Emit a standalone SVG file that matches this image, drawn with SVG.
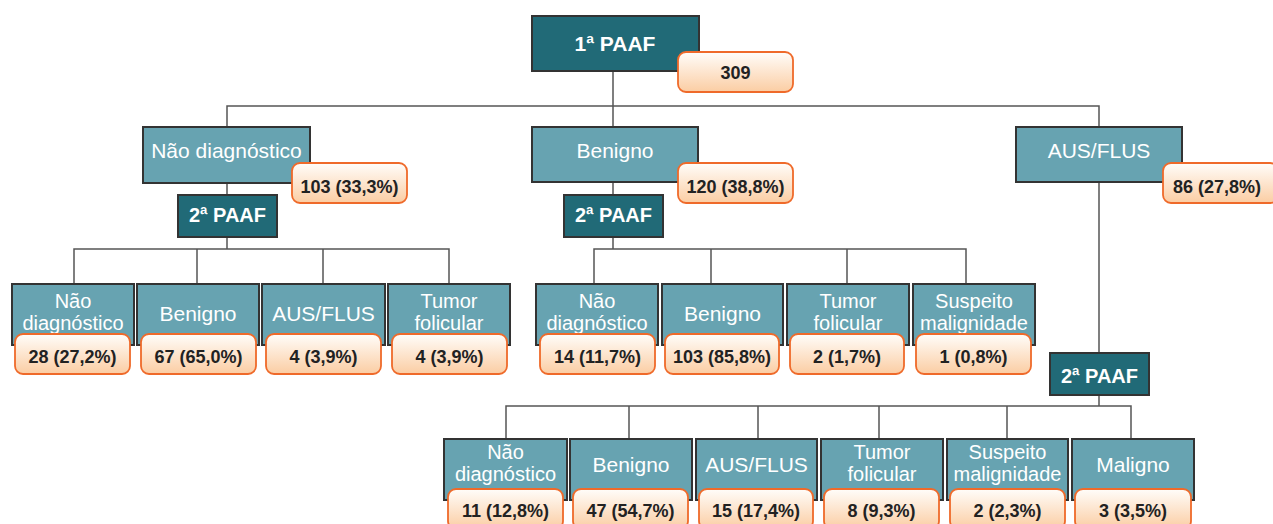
<svg xmlns="http://www.w3.org/2000/svg" width="1273" height="524" viewBox="0 0 1273 524">
<defs>
<linearGradient id="bg" x1="0" y1="0" x2="0" y2="1">
<stop offset="0" stop-color="#fffdfa"/>
<stop offset="1" stop-color="#fbcda3"/>
</linearGradient>
<style>
.dk{fill:#216a77;stroke:#333;stroke-width:2}
.lt{fill:#67a3b1;stroke:#333;stroke-width:2}
.bd{fill:url(#bg);stroke:#ef6a2a;stroke-width:1.8}
.tw{font-family:"Liberation Sans",Arial,sans-serif;font-size:21px;fill:#fff;text-anchor:middle}
.t2{font-family:"Liberation Sans",Arial,sans-serif;font-size:20px;fill:#fff;text-anchor:middle}
.tb{font-family:"Liberation Sans",Arial,sans-serif;font-size:21px;font-weight:bold;fill:#fff;text-anchor:middle}
.tn{font-family:"Liberation Sans",Arial,sans-serif;font-size:18px;font-weight:bold;fill:#222;text-anchor:middle}
.ln{fill:none;stroke:#555;stroke-width:1.5}
</style>
</defs>
<rect width="1273" height="524" fill="#fff"/>
<g id="connectors" class="ln">
<path d="M613 71V106M227 127V106H1099V127M613 106V127"/>
<path d="M227 183V194M613 182V195M1099 182V353"/>
<path d="M227 237V249M74 284V249H449V284M197 249V284M323 249V284"/>
<path d="M613 237V249M594 284V249H966V284M711 249V284M847 249V284"/>
<path d="M1099 395V406M506 439V406H1131V439M629 406V439M758 406V439M879 406V439M1007 406V439"/>
</g>
<g id="n-paaf1"><rect class="dk" x="532" y="16" width="167" height="55"/><text class="tb" x="615" y="51">1ª PAAF</text></g>
<g id="b-309"><rect class="bd" x="678" y="52" width="115" height="40" rx="8"/><text class="tn" x="735.5" y="79">309</text></g>
<g id="n-nd"><rect class="lt" x="143" y="127" width="167" height="56"/><text class="tw" x="226.5" y="157.5">Não diagnóstico</text></g>
<g id="b-nd"><rect class="bd" x="292" y="163" width="115" height="40" rx="8"/><text class="tn" x="349.5" y="192.5">103 (33,3%)</text></g>
<g id="n-ben"><rect class="lt" x="532" y="127" width="166" height="55"/><text class="tw" x="615" y="157.5">Benigno</text></g>
<g id="b-ben"><rect class="bd" x="678" y="163" width="115" height="40" rx="8"/><text class="tn" x="735.5" y="192.5">120 (38,8%)</text></g>
<g id="n-aus"><rect class="lt" x="1016" y="127" width="166" height="55"/><text class="tw" x="1099" y="157.5">AUS/FLUS</text></g>
<g id="b-aus"><rect class="bd" x="1163" y="163" width="115" height="40" rx="8"/><text class="tn" x="1217" y="192.5">86 (27,8%)</text></g>
<g id="n-paaf2a"><rect class="dk" x="178" y="195" width="99" height="42"/><text class="tb" x="227.5" y="221.5" style="font-size:20px">2ª PAAF</text></g>
<g id="n-paaf2b"><rect class="dk" x="564" y="195" width="99" height="42"/><text class="tb" x="613.5" y="221.5" style="font-size:20px">2ª PAAF</text></g>
<g id="n-paaf2c"><rect class="dk" x="1050" y="353" width="99" height="42"/><text class="tb" x="1099.5" y="383" style="font-size:20px">2ª PAAF</text></g>
<g id="l1"><rect class="lt" x="12" y="284" width="122" height="61"/><text class="t2" x="73" y="308">Não</text><text class="t2" x="73" y="330">diagnóstico</text><rect class="bd" x="15" y="334" width="115" height="40" rx="8"/><text class="tn" x="72.5" y="363">28 (27,2%)</text></g>
<g id="l2"><rect class="lt" x="137" y="284" width="122" height="61"/><text class="tw" x="198" y="320.5">Benigno</text><rect class="bd" x="141" y="334" width="115" height="40" rx="8"/><text class="tn" x="198.5" y="363">67 (65,0%)</text></g>
<g id="l3"><rect class="lt" x="262" y="284" width="123" height="61"/><text class="tw" x="323.5" y="320.5">AUS/FLUS</text><rect class="bd" x="266" y="334" width="115" height="40" rx="8"/><text class="tn" x="323.5" y="363">4 (3,9%)</text></g>
<g id="l4"><rect class="lt" x="388" y="284" width="122" height="61"/><text class="t2" x="449" y="308">Tumor</text><text class="t2" x="449" y="330">folicular</text><rect class="bd" x="392" y="334" width="115" height="40" rx="8"/><text class="tn" x="449.5" y="363">4 (3,9%)</text></g>
<g id="m1"><rect class="lt" x="536" y="284" width="122" height="61"/><text class="t2" x="597" y="308">Não</text><text class="t2" x="597" y="330">diagnóstico</text><rect class="bd" x="540" y="334" width="115" height="40" rx="8"/><text class="tn" x="597.5" y="363">14 (11,7%)</text></g>
<g id="m2"><rect class="lt" x="662" y="284" width="121" height="61"/><text class="tw" x="722.5" y="320.5">Benigno</text><rect class="bd" x="665" y="334" width="114" height="40" rx="8"/><text class="tn" x="722" y="363">103 (85,8%)</text></g>
<g id="m3"><rect class="lt" x="787" y="284" width="122" height="61"/><text class="t2" x="848" y="308">Tumor</text><text class="t2" x="848" y="330">folicular</text><rect class="bd" x="790" y="334" width="114" height="40" rx="8"/><text class="tn" x="847" y="363">2 (1,7%)</text></g>
<g id="m4"><rect class="lt" x="913" y="284" width="122" height="61"/><text class="t2" x="974" y="308">Suspeito</text><text class="t2" x="974" y="330">malignidade</text><rect class="bd" x="916" y="334" width="115" height="40" rx="8"/><text class="tn" x="973.5" y="363">1 (0,8%)</text></g>
<g id="r1"><rect class="lt" x="444" y="439" width="123" height="61"/><text class="t2" x="505.5" y="459">Não</text><text class="t2" x="505.5" y="481">diagnóstico</text><rect class="bd" x="448" y="489" width="115" height="40" rx="8"/><text class="tn" x="505.5" y="517">11 (12,8%)</text></g>
<g id="r2"><rect class="lt" x="570" y="439" width="122" height="61"/><text class="tw" x="631" y="472">Benigno</text><rect class="bd" x="573" y="489" width="115" height="40" rx="8"/><text class="tn" x="630.5" y="517">47 (54,7%)</text></g>
<g id="r3"><rect class="lt" x="696" y="439" width="121" height="61"/><text class="tw" x="756.5" y="472">AUS/FLUS</text><rect class="bd" x="699" y="489" width="114" height="40" rx="8"/><text class="tn" x="756" y="517">15 (17,4%)</text></g>
<g id="r4"><rect class="lt" x="821" y="439" width="122" height="61"/><text class="t2" x="882" y="459">Tumor</text><text class="t2" x="882" y="481">folicular</text><rect class="bd" x="824" y="489" width="115" height="40" rx="8"/><text class="tn" x="881.5" y="517">8 (9,3%)</text></g>
<g id="r5"><rect class="lt" x="947" y="439" width="121" height="61"/><text class="t2" x="1007.5" y="459">Suspeito</text><text class="t2" x="1007.5" y="481">malignidade</text><rect class="bd" x="950" y="489" width="115" height="40" rx="8"/><text class="tn" x="1007.5" y="517">2 (2,3%)</text></g>
<g id="r6"><rect class="lt" x="1072" y="439" width="122" height="61"/><text class="tw" x="1133" y="472">Maligno</text><rect class="bd" x="1075" y="489" width="116" height="40" rx="8"/><text class="tn" x="1133" y="517">3 (3,5%)</text></g>
</svg>
